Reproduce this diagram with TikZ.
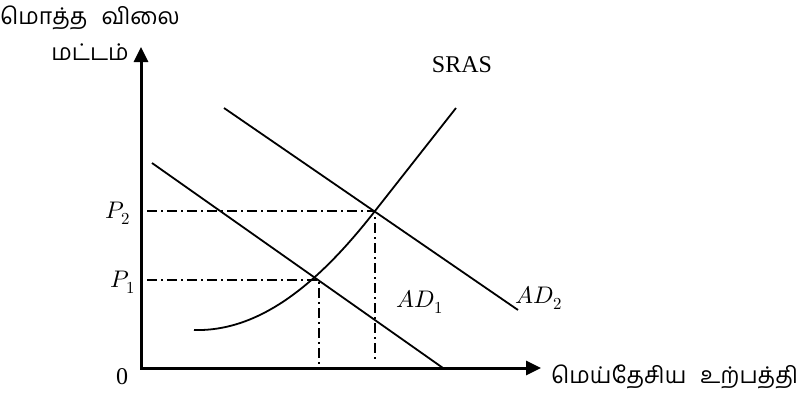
\documentclass[tikz,border=0pt]{standalone}
\usepackage{fontspec}
\usepackage{unicode-math}
\setmainfont{Liberation Serif}
\setmathfont{Latin Modern Math}
\newfontfamily\tamilfont[Script=Tamil]{Hind Madurai}
\usetikzlibrary{arrows.meta}

\begin{document}
\begin{tikzpicture}[
  x=1pt, y=-1pt,
  axis/.style={line width=3pt, {Triangle[length=15pt,width=14pt]}-{Triangle[length=15pt,width=14pt]}},
  crv/.style={line width=1.8pt},
  guide/.style={line width=1.8pt, dash pattern=on 10pt off 4pt on 2pt off 4pt},
  lbl/.style={font=\fontsize{24}{28}\selectfont, inner sep=0pt},
  tlbl/.style={font=\tamilfont\fontsize{23}{26}\selectfont, inner sep=0pt}
]
\useasboundingbox (0,0) rectangle (803,394);

%% Points
\coordinate (o)    at (141,368);
\coordinate (ytop) at (141,47);
\coordinate (xend) at (541,368);
\coordinate (e1)   at (319,280);
\coordinate (e2)   at (375,211);
\coordinate (p1)   at (147,280);
\coordinate (p2)   at (147,211);
\coordinate (q1)   at (319,368);
\coordinate (q2)   at (375,360);

%% Axes
\draw[axis] (ytop) -- (o) -- (xend);

%% Curves
\coordinate (ad1a) at (152,163);
\coordinate (ad1b) at (443,368);
\coordinate (ad2a) at (224,108);
\coordinate (ad2b) at (518,310);
\coordinate (srasa) at (194,330);
\coordinate (srasb) at (456,108);
\draw[crv] (ad1a) -- (ad1b);
\draw[crv] (ad2a) -- (ad2b);
\draw[crv] (srasa) .. controls (265,332) and (325,275) .. (e2) -- (srasb);

%% Guide lines
\draw[guide] (p1) -- (e1) -- (q1);
\draw[guide] (p2) -- (e2) -- (q2);

%% Labels
\node[lbl] (lp2)  at (118,213) {$P_2$};
\node[lbl] (lp1)  at (123,282) {$P_1$};
\node[lbl] (lo)   at (122,377) {0};
\node[lbl] (lsr)  at (462,65)  {SRAS};
\node[lbl] (lad1) at (420,302) {$AD_1$};
\node[lbl] (lad2) at (539,298) {$AD_2$};

\node[tlbl] (ytitle) at (90,18) {மொத்த\hspace{14pt}விலை};
\node[tlbl, anchor=east] (yunit) at (129,52) {மட்டம்};
\node[tlbl, anchor=west] (xtitle) at (551,377) {மெய்தேசிய\hspace{14pt}உற்பத்தி};

\end{tikzpicture}
\end{document}
